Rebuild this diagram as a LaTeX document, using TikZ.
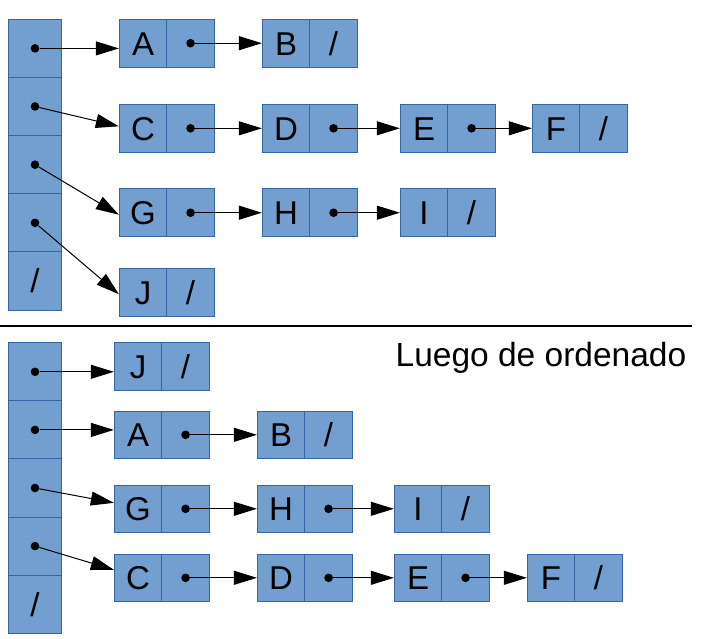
\documentclass[tikz,border=0pt]{standalone}
\usepackage{fontspec}
\setmainfont{Liberation Sans}
\usetikzlibrary{arrows.meta,calc}
\definecolor{cellfill}{HTML}{729FCF}
\definecolor{cellline}{HTML}{3465A4}
\newcommand\ptrnode[4]{%
  \node[cell] (#1) at (#2+23.75,#3) {#4};
  \node[cell] (#1r) at (#2+71.25,#3) {};
  \node[dot] (#1d) at (#1r.center) {};}
\newcommand\nilnode[4]{%
  \node[cell] (#1) at (#2+23.75,#3) {#4};
  \node[cell] (#1r) at (#2+71.25,#3) {/};}
\tikzset{
  cell/.style={draw=cellline, fill=cellfill, line width=0.9pt, minimum width=47.5pt,
    minimum height=47.6pt, inner sep=0pt, text height=24pt, text depth=0pt,
    font=\fontsize{33}{40}\selectfont},
  arrcell/.style={cell, minimum width=53.4pt, minimum height=58.14pt},
  dot/.style={circle, fill=black, inner sep=0pt, minimum size=8.6pt},
  link/.style={line width=1pt, -{Triangle[length=23pt,width=14pt]}},
  sepline/.style={line width=1.3pt}
}
\begin{document}
\begin{tikzpicture}[x=1pt,y=-1pt]
\useasboundingbox (0,0) rectangle (701,638);
% top array
\node[arrcell] (ta1) at (35,48.4) {};
\node[arrcell] (ta2) at (35,106.5) {};
\node[arrcell] (ta3) at (35,164.7) {};
\node[arrcell] (ta4) at (35,222.8) {};
\node[arrcell] (ta5) at (35,280.9) {/};
\node[dot] (ta1d) at (ta1.center) {};
\node[dot] (ta2d) at (ta2.center) {};
\node[dot] (ta3d) at (ta3.center) {};
\node[dot] (ta4d) at (ta4.center) {};
% top lists
\ptrnode{tA}{119.3}{43.2}{A}
\nilnode{tB}{262.3}{43.2}{B}
\ptrnode{tC}{119.3}{128.3}{C}
\ptrnode{tD}{262.3}{128.3}{D}
\ptrnode{tE}{400.3}{128.3}{E}
\nilnode{tF}{532.3}{128.3}{F}
\ptrnode{tG}{119.3}{212.7}{G}
\ptrnode{tH}{262.3}{212.7}{H}
\nilnode{tI}{400.3}{212.7}{I}
\nilnode{tJ}{119.3}{292.2}{J}
\draw[link] (ta1d) -- (ta1d -| tA.west);
\draw[link] (ta2d) -- ($(tC.west)+(0,-2)$);
\draw[link] (ta3d) -- ($(tG.west)+(0,2)$);
\draw[link] (ta4d) -- ($(tJ.west)+(0,2)$);
\draw[link] (tAd) -- (tB.west);
\draw[link] (tCd) -- (tD.west);
\draw[link] (tDd) -- (tE.west);
\draw[link] (tEd) -- (tF.west);
\draw[link] (tGd) -- (tH.west);
\draw[link] (tHd) -- (tI.west);
% separator
\coordinate (sepL) at (0,326);
\coordinate (sepR) at (692,326);
\draw[sepline] (sepL) -- (sepR);
% title
\node[anchor=base west, inner sep=0pt, font=\fontsize{33.5}{40}\selectfont] (title) at (395.5,366.7) {Luego de ordenado};
% bottom array
\node[arrcell] (ba1) at (35,371.8) {};
\node[arrcell] (ba2) at (35,429.9) {};
\node[arrcell] (ba3) at (35,488.0) {};
\node[arrcell] (ba4) at (35,546.1) {};
\node[arrcell] (ba5) at (35,604.2) {/};
\node[dot] (ba1d) at (ba1.center) {};
\node[dot] (ba2d) at (ba2.center) {};
\node[dot] (ba3d) at (ba3.center) {};
\node[dot] (ba4d) at (ba4.center) {};
% bottom lists
\nilnode{bJ}{114.3}{366.3}{J}
\ptrnode{bA}{114.3}{434.8}{A}
\nilnode{bB}{257.3}{434.8}{B}
\ptrnode{bG}{114.3}{508.8}{G}
\ptrnode{bH}{257.3}{508.8}{H}
\nilnode{bI}{394.3}{508.8}{I}
\ptrnode{bC}{114.3}{577.8}{C}
\ptrnode{bD}{257.3}{577.8}{D}
\ptrnode{bE}{394.3}{577.8}{E}
\nilnode{bF}{527.3}{577.8}{F}
\draw[link] (ba1d) -- (ba1d -| bJ.west);
\draw[link] (ba2d) -- (ba2d -| bA.west);
\draw[link] (ba3d) -- ($(bG.west)+(0,-6)$);
\draw[link] (ba4d) -- ($(bC.west)+(0,-8)$);
\draw[link] (bAd) -- (bB.west);
\draw[link] (bGd) -- (bH.west);
\draw[link] (bHd) -- (bI.west);
\draw[link] (bCd) -- (bD.west);
\draw[link] (bDd) -- (bE.west);
\draw[link] (bEd) -- (bF.west);
\end{tikzpicture}
\end{document}
